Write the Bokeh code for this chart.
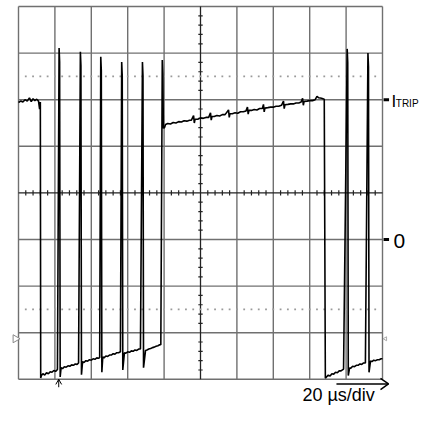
import numpy as np
from bokeh.plotting import figure
from bokeh.embed import file_html
from bokeh.resources import INLINE
from bokeh.core.properties import value

# ---- scope settings (time in µs, vertical in divisions) ----
time_div = [0, 20, 40, 60, 80, 100, 120, 140, 160, 180, 200]
volt_div = [-4, -3, -2, -1, 0, 1, 2, 3, 4]
dotted_levels = [2.5, -2.5]
trip_level = 2.0
zero_level = -1.0
trigger_t = 22.1

# ---- trace pieces ----
flat_t = [0.0, 1.2, 2.4, 3.6, 4.8, 6.0, 7.0, 8.0, 9.0, 10.0, 11.0, 11.6, 12.0]
flat_v = [1.94, 1.97, 1.95, 2.00, 1.97, 2.04, 1.96, 2.02, 1.98, 2.01, 1.97, 1.80, 1.95]

segA_t = [12.2, 12.6, 13.4, 14.4, 15.4, 16.4, 17.4, 18.4, 19.4, 20.4, 21.4]
segA_v = [-3.97, -3.92, -3.88, -3.91, -3.86, -3.88, -3.84, -3.85, -3.81, -3.83, -3.79]
segB_t = [23.4, 24.2, 25.2, 26.2, 27.2, 28.2, 29.2, 30.2, 31.2, 32.2, 33.0]
segB_v = [-3.75, -3.77, -3.73, -3.74, -3.71, -3.72, -3.69, -3.70, -3.67, -3.68, -3.65]
segC_t = [35.2, 36.0, 37.0, 38.0, 39.0, 40.0, 41.0, 42.0, 43.0, 44.0, 44.6]
segC_v = [-3.62, -3.64, -3.60, -3.61, -3.58, -3.59, -3.56, -3.57, -3.54, -3.55, -3.53]
segD_t = [46.3, 47.0, 48.0, 49.0, 50.0, 51.0, 52.0, 53.0, 54.0, 55.0, 56.0]
segD_v = [-3.52, -3.54, -3.50, -3.51, -3.48, -3.48, -3.45, -3.46, -3.43, -3.43, -3.41]
segE_t = [58.2, 59.0, 60.0, 61.0, 62.0, 63.0, 64.0, 65.0, 66.0, 67.0]
segE_v = [-3.43, -3.44, -3.41, -3.42, -3.39, -3.40, -3.37, -3.38, -3.35, -3.35]
segF_t = [69.8, 70.6, 71.6, 72.6, 73.6, 74.6, 75.6, 76.6, 77.6, 78.2]
segF_v = [-3.38, -3.37, -3.35, -3.34, -3.32, -3.31, -3.29, -3.28, -3.26, -3.26]
ramp_t = [80.2, 80.8, 82, 83.5, 85, 86.5, 88, 89.5, 91, 92.5, 94, 95,
          96.2, 96.6, 97.0, 98.5, 100, 101.5, 103, 104.5,
          105.5, 105.9, 106.3, 107.5, 109, 110.5, 112, 113.5,
          115.4, 115.8, 116.2, 117.5, 119, 120.5, 122, 123.5, 125,
          125.8, 126.2, 126.6, 128, 129.5, 131, 132.5, 134,
          134.6, 135.0, 135.4, 137, 138.5, 140, 141.5, 143, 144.5,
          145.6, 146.0, 146.4, 148, 149.5, 151, 152.5, 154, 155.3,
          156.1, 156.5, 156.9, 158.5, 160, 161.5, 163, 164, 165, 166.5, 168.0]
ramp_v = [1.40, 1.47, 1.49, 1.48, 1.51, 1.50, 1.53, 1.52, 1.55, 1.54, 1.56, 1.56,
          1.66, 1.50, 1.58, 1.58, 1.61, 1.60, 1.62, 1.62,
          1.72, 1.56, 1.64, 1.64, 1.66, 1.65, 1.68, 1.68,
          1.78, 1.62, 1.70, 1.70, 1.72, 1.71, 1.74, 1.74, 1.76,
          1.84, 1.69, 1.77, 1.77, 1.79, 1.78, 1.81, 1.81,
          1.90, 1.74, 1.82, 1.83, 1.84, 1.84, 1.86, 1.86, 1.88,
          1.97, 1.81, 1.89, 1.90, 1.91, 1.91, 1.93, 1.93, 1.95,
          2.03, 1.88, 1.96, 1.97, 1.98, 1.98, 2.00, 2.07, 2.04, 2.03, 2.01]
segR1_t = [168.6, 169.2, 170.2, 171.2, 172.2, 173.2, 174.2, 175.2, 176.2, 177.2, 178.6]
segR1_v = [-3.98, -3.95, -3.91, -3.93, -3.88, -3.89, -3.85, -3.86, -3.82, -3.82, -3.78]
segR2_t = [181.9, 182.6, 183.6, 184.6, 185.6, 186.6, 187.6, 188.6, 189.6, 190.6]
segR2_v = [-3.76, -3.76, -3.72, -3.73, -3.70, -3.70, -3.67, -3.68, -3.65, -3.65]
segR3_t = [193.4, 194.2, 195.2, 196.2, 197.2, 198.2, 199.2, 200.0]
segR3_v = [-3.61, -3.62, -3.59, -3.60, -3.58, -3.58, -3.56, -3.56]

spike_t = [22.3, 34.0, 45.2, 56.7, 68.1, 79.0, None, 180.6, 192.0]
spike_peak = [3.11, 3.03, 2.92, 2.81, 2.81, 2.85, None, 3.09, 3.00]
spike_fall = [-3.95, -3.90, -3.85, -3.80, -3.75, 1.39, None, -3.92, -3.85]

pieces = [(flat_t, flat_v), (segA_t, segA_v), (segB_t, segB_v), (segC_t, segC_v),
          (segD_t, segD_v), (segE_t, segE_v), (segF_t, segF_v), (ramp_t, ramp_v),
          (segR1_t, segR1_v), (segR2_t, segR2_v), (segR3_t, segR3_v)]

trace_t, trace_v = [], []
for i, (pt, pv) in enumerate(pieces):
    trace_t += pt
    trace_v += pv
    k = i - 1
    if 0 <= k < len(spike_t) and i < len(pieces) - 1 and spike_t[k] is not None:
        trace_t += [spike_t[k], spike_t[k] + 0.3, spike_t[k] + 0.6]
        trace_v += [spike_peak[k], spike_peak[k] - 0.3, spike_fall[k]]

# ---- figure: placement so that t=0 sits 18px from the left, +4 div 6px from top ----
W, H = 422, 405
PX_T = 1.82     # px per µs
PX_V = 46.6     # px per division
x0 = -18 / PX_T
x1 = x0 + W / PX_T
y1 = 4 + 6 / PX_V
y0 = y1 - H / PX_V

p = figure(width=W, height=H, x_range=(x0, x1), y_range=(y0, y1),
           x_axis_type=None, y_axis_type=None, toolbar_location=None,
           output_backend="svg", min_border=0)
p.min_border_left = p.min_border_right = p.min_border_top = p.min_border_bottom = 0
p.outline_line_color = None
p.background_fill_color = "white"
p.border_fill_color = "white"

grid_col = "#707070"
vt = [t for t in time_div if t != 100]
hv = [v for v in volt_div if v != 0]
p.segment(x0=vt, y0=-4, x1=vt, y1=4, line_color=grid_col, line_width=1.4)
p.segment(x0=0, y0=hv, x1=200, y1=hv, line_color=grid_col, line_width=1.4)
# center axes
p.segment(x0=[100, 0], y0=[-4, 0], x1=[100, 200], y1=[4, 0], line_color="#222222", line_width=1.3)
# minor ticks on center lines
mt = [t for t in np.arange(0, 200.1, 4) if t % 20 != 0]
p.segment(x0=mt, y0=-0.055, x1=mt, y1=0.055, line_color="#222222", line_width=1.2)
mv = [v for v in np.round(np.arange(-4, 4.01, 0.2), 2) if abs(v - round(v)) > 1e-6]
p.segment(x0=98.8, y0=mv, x1=101.2, y1=mv, line_color="#222222", line_width=1.2)
# dotted levels
dots = list(np.arange(4, 200, 4))
for lv in dotted_levels:
    p.scatter(x=dots, y=[lv] * len(dots), marker="square", size=1.8,
              fill_color="#9a9a9a", line_color=None)

# trace
p.line(trace_t, trace_v, line_color="black", line_width=1.6)

# right-side level markers and labels
p.segment(x0=200.6, y0=[trip_level, zero_level], x1=203.6, y1=[trip_level, zero_level],
          line_color="black", line_width=3)
p.text(x=[205.0], y=[trip_level - 0.04], text=["I"], text_font=value("Liberation Sans"),
       text_font_size="17px", text_baseline="middle", text_align="left", text_color="black")
p.text(x=[207.3], y=[trip_level - 0.08], text=["TRIP"], text_font=value("Liberation Sans"),
       text_font_size="10px", text_baseline="middle", text_align="left", text_color="black")
p.text(x=[206.0], y=[zero_level - 0.03], text=["0"], text_font=value("Liberation Sans"),
       text_font_size="21px", text_baseline="middle", text_align="left", text_color="black")

# ground markers
p.scatter(x=[-1.7], y=[-3.13], marker="triangle", angle=-np.pi / 2, size=8,
          fill_color="white", line_color="#888888", line_width=1)
p.scatter(x=[201.6], y=[-3.13], marker="triangle", angle=np.pi / 2, size=4,
          fill_color="white", line_color="#aaaaaa", line_width=1)

# trigger arrow
p.segment(x0=trigger_t, y0=-4.0, x1=trigger_t, y1=-4.17, line_color="black", line_width=1)
p.line([trigger_t - 1.6, trigger_t, trigger_t + 1.6], [-4.11, -4.0, -4.11],
       line_color="black", line_width=1)

# time-base arrow and label
ay = -4.10
p.segment(x0=174.7, y0=ay, x1=203.3, y1=ay, line_color="black", line_width=1.5)
p.line([198.9, 203.3, 198.9], [ay + 0.12, ay, ay - 0.12], line_color="black", line_width=1.5)
p.text(x=[156.0], y=[-4.56], text=["20 µs/div"], text_font=value("Liberation Sans"),
       text_font_size="18px", text_baseline="bottom", text_align="left", text_color="black")

open("out.html", "w").write(file_html(p, INLINE))
